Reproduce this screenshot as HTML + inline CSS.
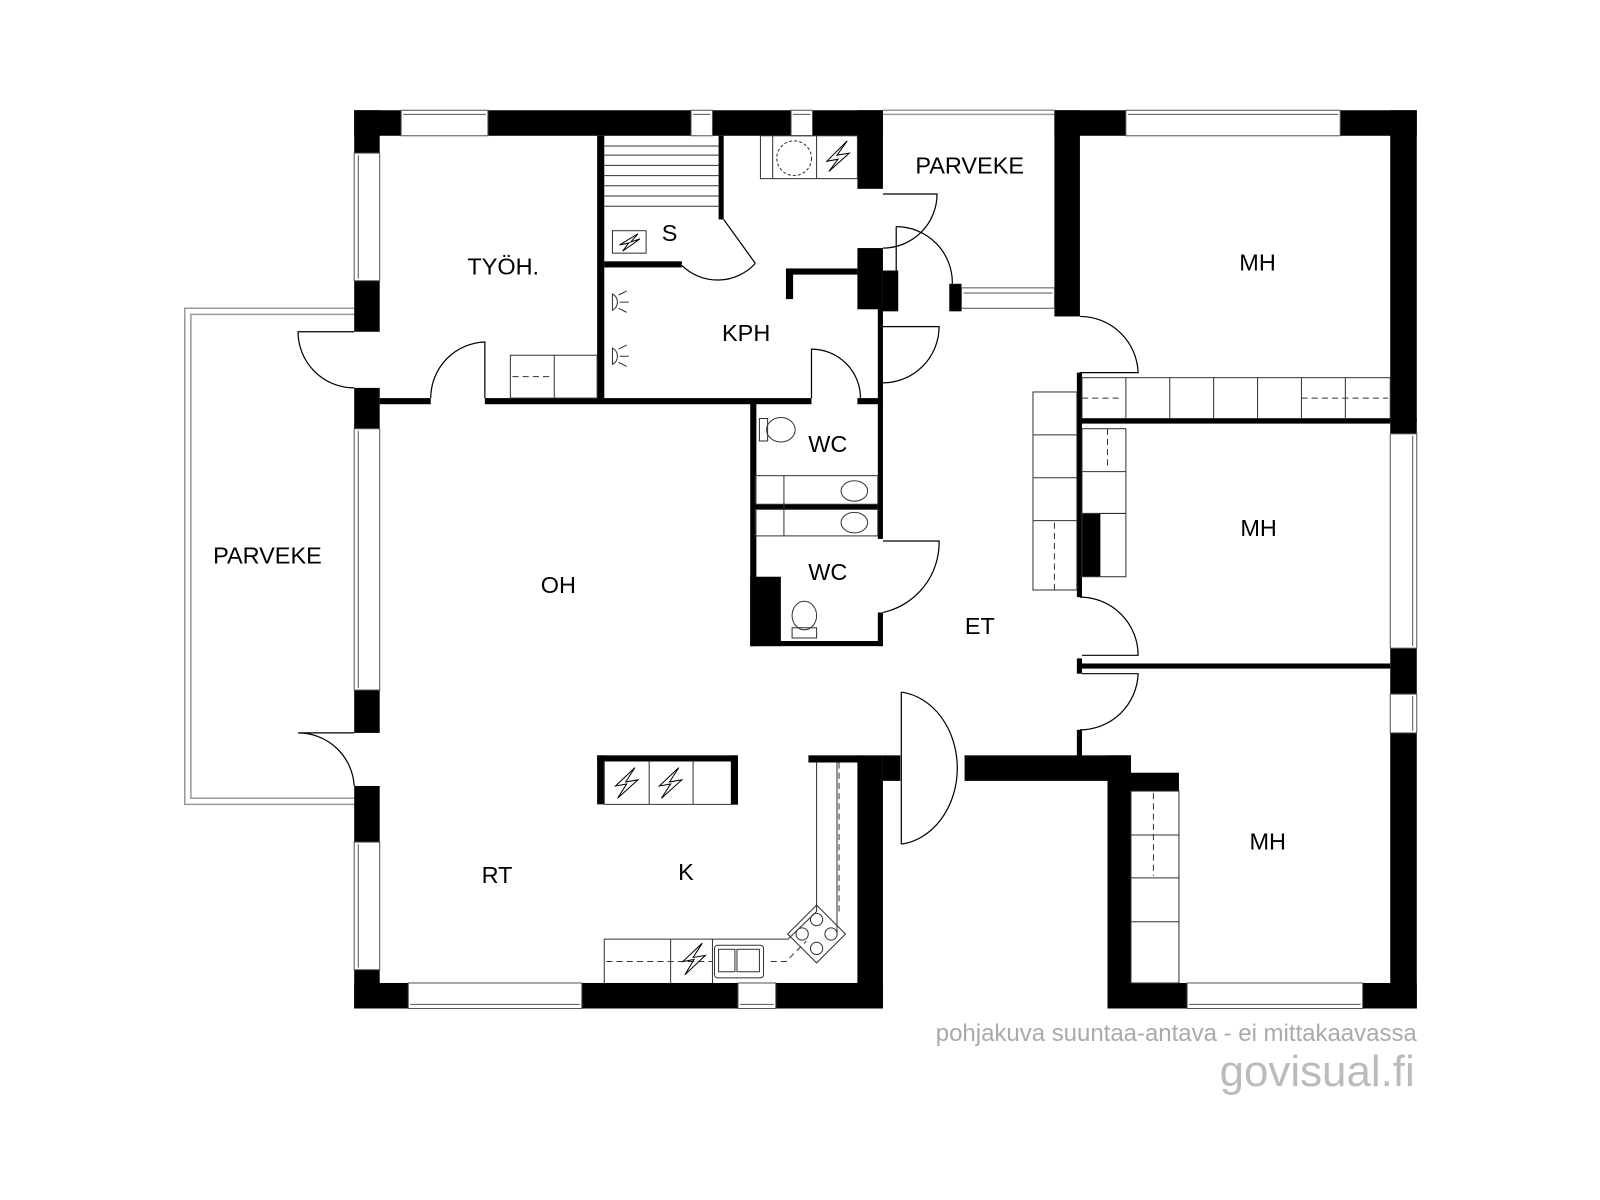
<!DOCTYPE html>
<html><head><meta charset="utf-8"><style>
html,body{margin:0;padding:0;background:#fff}
svg{display:block}
text{font-family:"Liberation Sans",sans-serif}
</style></head><body>
<svg width="1600" height="1200" viewBox="0 0 1567.5 1175.6" xmlns="http://www.w3.org/2000/svg">
<rect width="1568" height="1176" fill="#fff"/>
<g fill="none" stroke="#999" stroke-width="1.5">
<path d="M347 302 H181 V788 H347"/>
<path d="M347 308 H187 V782 H347"/>
<path d="M865 108 H1033"/>
<path d="M865 112 H1033"/>
</g>
<g fill="#000">
<rect x="347" y="108" width="518" height="25"/>
<rect x="840" y="108" width="25" height="77"/>
<rect x="347" y="108" width="25" height="217"/>
<rect x="347" y="380" width="25" height="40"/>
<rect x="347" y="676" width="25" height="42"/>
<rect x="347" y="770" width="25" height="55"/>
<rect x="347" y="950" width="25" height="38"/>
<rect x="347" y="963" width="518" height="25"/>
<rect x="840" y="740" width="25" height="248"/>
<rect x="865" y="740" width="17" height="25"/>
<rect x="792" y="740" width="50" height="7"/>
<rect x="945" y="740" width="163" height="25"/>
<rect x="1085" y="740" width="23" height="248"/>
<rect x="1085" y="757" width="70" height="18"/>
<rect x="1085" y="963" width="303" height="25"/>
<rect x="1033" y="108" width="355" height="25"/>
<rect x="1033" y="108" width="25" height="202"/>
<rect x="930" y="278" width="12" height="27"/>
<rect x="1362" y="108" width="26" height="305"/>
<rect x="1362" y="410" width="26" height="15"/>
<rect x="1362" y="635" width="26" height="45"/>
<rect x="1362" y="718" width="26" height="270"/>
<rect x="1058" y="410" width="304" height="5"/>
<rect x="1058" y="650" width="304" height="5"/>
<rect x="1055" y="365" width="5" height="220"/>
<rect x="1055" y="645" width="5" height="15"/>
<rect x="1055" y="715" width="5" height="27"/>
<rect x="1060" y="503" width="18" height="62"/>
<rect x="585" y="133" width="7" height="262"/>
<rect x="704" y="133" width="5" height="82"/>
<rect x="592" y="256" width="76" height="6"/>
<rect x="372" y="390" width="50" height="6"/>
<rect x="475" y="390" width="320" height="6"/>
<rect x="840" y="390" width="25" height="6"/>
<rect x="860" y="300" width="5" height="95"/>
<rect x="840" y="243" width="25" height="60"/>
<rect x="865" y="265" width="15" height="40"/>
<rect x="770" y="263" width="70" height="6"/>
<rect x="770" y="263" width="7" height="30"/>
<rect x="735" y="395" width="6" height="238"/>
<rect x="735" y="565" width="30" height="68"/>
<rect x="735" y="628" width="130" height="5"/>
<rect x="860" y="395" width="5" height="133"/>
<rect x="860" y="600" width="5" height="33"/>
<rect x="740" y="494" width="120" height="5"/>
<rect x="585" y="740" width="138" height="6"/>
<rect x="585" y="740" width="7" height="48"/>
<rect x="716" y="740" width="7" height="48"/>
</g>
<g fill="#fff" stroke="#555" stroke-width="1">
<rect x="393" y="108" width="85" height="25"/>
<rect x="677" y="108" width="21" height="25"/>
<rect x="775" y="108" width="21" height="25"/>
<rect x="1103" y="108" width="210" height="25"/>
<rect x="347" y="150" width="25" height="125"/>
<rect x="347" y="420" width="25" height="256"/>
<rect x="347" y="825" width="25" height="125"/>
<rect x="400" y="963" width="170" height="25"/>
<rect x="723" y="963" width="37" height="25"/>
<rect x="1163" y="963" width="172" height="25"/>
<rect x="1362" y="425" width="26" height="210"/>
<rect x="1362" y="680" width="26" height="38"/>
<rect x="942" y="282" width="91" height="20"/>
</g>
<g stroke="#555" stroke-width="1" fill="none">
<path d="M395 112 H476 M679 112 H696 M777 112 H794 M1105 112 H1311 M351 152 V273 M351 422 V674 M351 827 V948 M402 984 H568 M725 984 H758 M1165 984 H1333 M1384 427 V633 M1384 682 V716 M944 287 H1031"/>
</g>
<g fill="none" stroke="#000" stroke-width="1.2">
<path d="M347 325 H292 A55 55 0 0 0 347 380"/>
<path d="M347 718 H292 A55 55 0 0 1 347 770"/>
<path d="M475 390 V335 A55 55 0 0 0 422 390"/>
<path d="M795 390 V342 A48 48 0 0 1 843 390"/>
<path d="M709 215 L740 258 M668 260 A50 50 0 0 0 740 258"/>
<path d="M865 320 H920 A55 55 0 0 1 865 375"/>
<path d="M878 222 V278 M878 222 A55 55 0 0 1 933 278"/>
<path d="M865 190 H918 A53 53 0 0 1 865 243"/>
<path d="M865 530 H920 A70 70 0 0 1 865 600"/>
<path d="M1058 310 A57 57 0 0 1 1115 365 H1058"/>
<path d="M1058 585 A57 57 0 0 1 1115 642 H1060"/>
<path d="M1060 660 H1115 A57 57 0 0 1 1058 715"/>
<path d="M883 678 V827 M883 678 A62 75 0 0 1 883 827"/>
</g>
<g fill="none" stroke="#333" stroke-width="1">
<path d="M592 143 H704 M592 152 H704 M592 162 H704 M592 172 H704 M592 182 H704 M592 192 H704 M592 202 H704"/>
<rect x="600" y="226" width="33" height="22"/>
<rect x="745" y="133" width="95" height="42"/>
<path d="M757 133 V175 M800 133 V175"/>
<circle cx="778" cy="155" r="17" stroke-dasharray="3 2"/>
<rect x="500" y="348" width="85" height="42"/>
<path d="M543 348 V390"/>
<path d="M502 369 H540" stroke-dasharray="6 4"/>
<rect x="1060" y="370" width="302" height="40"/>
<path d="M1103 370 V410 M1146 370 V410 M1189 370 V410 M1232 370 V410 M1275 370 V410 M1318 370 V410"/>
<path d="M1060 390 H1100 M1275 390 H1360" stroke-dasharray="6 4"/>
<rect x="1012" y="384" width="43" height="194"/>
<path d="M1012 426 H1055 M1012 468 H1055 M1012 510 H1055"/>
<path d="M1033 512 V578" stroke-dasharray="6 4"/>
<rect x="1060" y="420" width="43" height="145"/>
<path d="M1060 462 H1103 M1060 503 H1103"/>
<path d="M1085 420 V460" stroke-dasharray="6 4"/>
<rect x="1108" y="775" width="47" height="188"/>
<path d="M1108 818 H1155 M1108 860 H1155 M1108 903 H1155"/>
<path d="M1130 777 V858" stroke-dasharray="6 4"/>
<rect x="740" y="466" width="120" height="28"/>
<rect x="740" y="499" width="120" height="26"/>
<path d="M768 466 V525"/>
<ellipse cx="837" cy="481" rx="13" ry="10"/>
<ellipse cx="837" cy="512" rx="13" ry="10"/>
<ellipse cx="765" cy="421" rx="14" ry="12"/>
<rect x="744" y="410" width="8" height="22"/>
<ellipse cx="788" cy="603" rx="12" ry="14"/>
<rect x="776" y="615" width="24" height="10"/>
<path d="M592 746 V788 M592 788 H723 M636 746 V788 M679 746 V788"/>
<path d="M800 747 V893 L772 920 H592 V963 M820 747 V915"/>
<path d="M822 747 V895" stroke-dasharray="6 4"/>
<path d="M594 942 H698 M755 942 H770 L790 922" stroke-dasharray="6 4"/>
<path d="M657 920 V963 M698 920 V963"/>
<g transform="rotate(45 800 915)"><rect x="780" y="895" width="40" height="40"/><circle cx="790" cy="905" r="6"/><circle cx="810" cy="905" r="6"/><circle cx="790" cy="925" r="6"/><circle cx="810" cy="925" r="6"/></g>
<rect x="700" y="926" width="48" height="32" rx="3"/>
<rect x="704" y="930" width="16" height="22"/><rect x="722" y="930" width="22" height="22"/>
<path d="M600 288 A9 9 0 0 1 600 304 Z M606 289 L614 285 M607 296 L616 296 M606 302 L614 306"/>
<path d="M600 341 A9 9 0 0 1 600 357 Z M606 342 L614 338 M607 349 L616 349 M606 355 L614 359"/>
</g>
<g fill="none" stroke="#000" stroke-width="1">
<path d="M625 229 L607 240 L616 238 L610 246 L627 234 L618 237 Z"/>
<path d="M830 138 L810 158 L821 156 L812 168 L832 150 L820 152 Z"/>
<path d="M622 752 L603 770 L614 768 L605 782 L625 764 L613 766 Z"/>
<path d="M665 752 L646 770 L657 768 L648 782 L668 764 L656 766 Z"/>
<path d="M688 924 L669 942 L680 940 L671 955 L691 936 L679 938 Z"/>
</g>
<g font-size="23" fill="#000" text-anchor="middle">
<text x="262" y="552">PARVEKE</text>
<text x="950" y="170">PARVEKE</text>
<text x="493" y="269">TYÖH.</text>
<text x="656" y="236">S</text>
<text x="731" y="334">KPH</text>
<text x="811" y="443">WC</text>
<text x="811" y="568">WC</text>
<text x="547" y="581">OH</text>
<text x="960" y="621">ET</text>
<text x="487" y="865">RT</text>
<text x="672" y="862">K</text>
<text x="1232" y="265">MH</text>
<text x="1233" y="525">MH</text>
<text x="1242" y="832">MH</text>
</g>
<text x="1388" y="1020" font-size="23.5" fill="#aaa" text-anchor="end">pohjakuva suuntaa-antava - ei mittakaavassa</text>
<text x="1386" y="1064" font-size="43" fill="#bbb" text-anchor="end">govisual.fi</text>
</svg>
</body></html>
